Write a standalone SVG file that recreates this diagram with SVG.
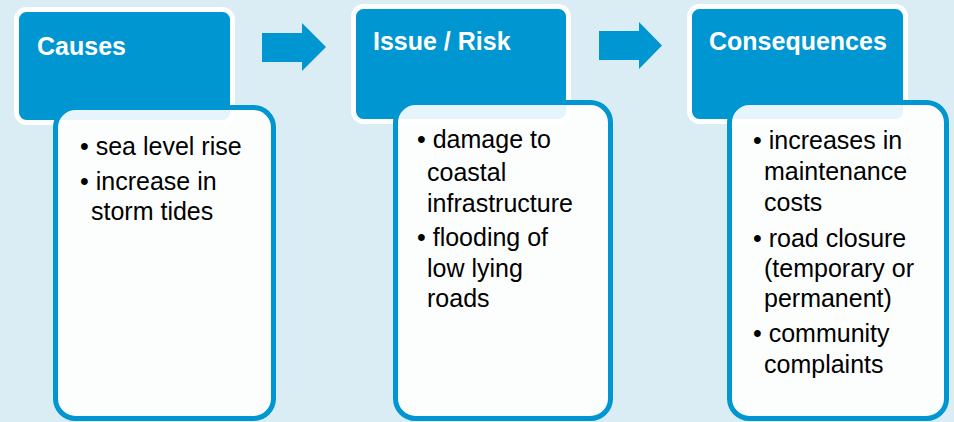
<svg xmlns="http://www.w3.org/2000/svg" width="954" height="422" viewBox="0 0 954 422">
<style>
.hdr{fill:#0096d1;stroke:#ffffff;stroke-width:5}
.body{fill:#ffffff;fill-opacity:0.9;stroke:#0096d1;stroke-width:5}
.ttl{font-family:"Liberation Sans",Arial,sans-serif;font-weight:bold;font-size:25px;fill:#ffffff}
.txt{font-family:"Liberation Sans",Arial,sans-serif;font-size:25px;fill:#000000}
.arrow{fill:#0096d1}
</style>
<rect width="954" height="422" fill="#daedf4"/>
<g id="causes">
<rect class="hdr" x="16.5" y="9.5" width="216" height="113" rx="10"/>
<text class="ttl" x="37" y="55">Causes</text>
<rect class="body" x="55.5" y="107.5" width="218" height="311" rx="20"/>
<text class="txt"><tspan x="80" y="155">• sea level rise</tspan><tspan x="80" y="190">• increase in</tspan><tspan x="91" y="220">storm tides</tspan></text>
</g>
<g id="issue">
<rect class="hdr" x="353.5" y="6.5" width="215" height="115" rx="10"/>
<text class="ttl" x="373" y="50">Issue / Risk</text>
<rect class="body" x="395.5" y="102.5" width="215" height="316" rx="20"/>
<text class="txt"><tspan x="417" y="148">• damage to</tspan><tspan x="427" y="181">coastal</tspan><tspan x="427" y="212">infrastructure</tspan><tspan x="417" y="246">• flooding of</tspan><tspan x="427" y="277">low lying</tspan><tspan x="427" y="307">roads</tspan></text>
</g>
<g id="consequences">
<rect class="hdr" x="689.5" y="6.5" width="216" height="115" rx="10"/>
<text class="ttl" x="709" y="50">Consequences</text>
<rect class="body" x="729.5" y="102.5" width="217" height="316" rx="20"/>
<text class="txt"><tspan x="753" y="149">• increases in</tspan><tspan x="764" y="180">maintenance</tspan><tspan x="764" y="211">costs</tspan><tspan x="753" y="247">• road closure</tspan><tspan x="764" y="277">(temporary or</tspan><tspan x="764" y="307">permanent)</tspan><tspan x="753" y="342">• community</tspan><tspan x="764" y="373">complaints</tspan></text>
</g>
<g id="connectors">
<polygon class="arrow" points="262,33 302,33 302,23 326,47 302,71 302,62 262,62"/>
<polygon class="arrow" points="599,31 639,31 639,22 662,45.5 639,69 639,60 599,60"/>
</g>
</svg>
